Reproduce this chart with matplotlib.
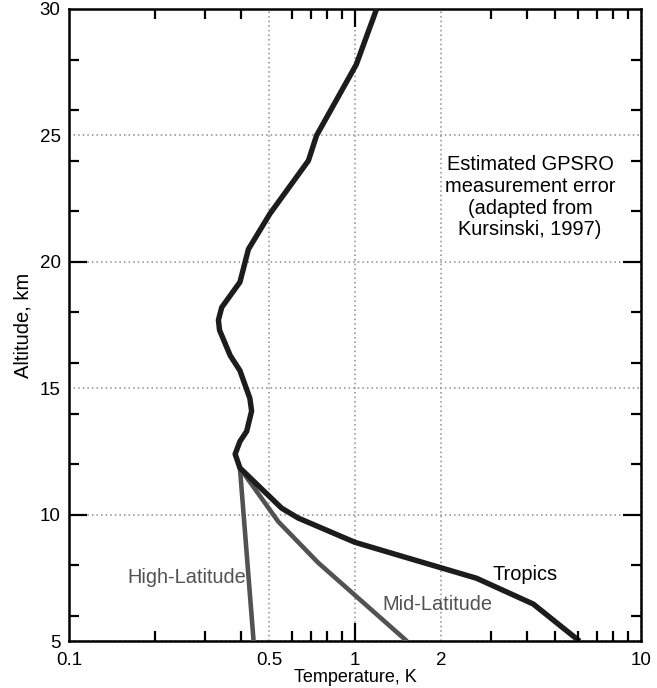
import matplotlib
matplotlib.use("Agg")
import matplotlib.pyplot as plt
from matplotlib.ticker import FixedLocator, NullFormatter, FixedFormatter

plt.rcParams['font.family'] = ['Liberation Sans', 'DejaVu Sans']

# Data (altitude km, temperature error K)
tropics_alt = [30.0, 27.8, 25.0, 24.0, 21.9, 20.5, 19.2, 18.2, 17.7, 17.3, 16.3, 15.7,
               14.6, 14.1, 13.3, 12.9, 12.4, 11.85, 10.26, 9.87, 8.91, 8.30, 7.49, 6.47, 5.0]
tropics_err = [1.19, 1.01, 0.734, 0.687, 0.504, 0.424, 0.396, 0.342, 0.333, 0.336, 0.366, 0.396,
               0.429, 0.435, 0.418, 0.396, 0.381, 0.396, 0.554, 0.633, 1.0, 1.52, 2.66, 4.20, 6.1]
midlat_alt = [11.85, 9.73, 8.10, 5.0]
midlat_err = [0.396, 0.539, 0.744, 1.52]
highlat_alt = [11.85, 5.0]
highlat_err = [0.396, 0.442]

xtick_vals = [0.1, 0.5, 1, 2, 10]
xtick_labels = ["0.1", "0.5", "1", "2", "10"]
ytick_vals = [5, 10, 15, 20, 25, 30]
ytick_labels = ["5", "10", "15", "20", "25", "30"]
x_minor = [0.2, 0.3, 0.4, 0.6, 0.7, 0.8, 0.9, 3, 4, 5, 6, 7, 8, 9]
x_major_marks = [1]
y_minor = [6, 8, 12, 14, 16, 18, 22, 24, 26, 28]
y_major_marks = [10, 20]

fig = plt.figure(figsize=(6.57, 6.88), dpi=100)
pos = [0.105, 0.068, 0.8707, 0.919]
ax = fig.add_axes(pos)
ax.set_xscale('log')
ax.set_xlim(0.1, 10)
ax.set_ylim(5, 30)

grey = '#525252'
ax.plot(highlat_err, highlat_alt, color=grey, lw=3.3, solid_capstyle='butt', zorder=3)
ax.plot(midlat_err, midlat_alt, color=grey, lw=3.3, solid_capstyle='butt', zorder=3)
ax.plot(tropics_err, tropics_alt, color='#1c1c1c', lw=3.9, solid_capstyle='butt', zorder=4)

ax.xaxis.set_major_locator(FixedLocator(xtick_vals))
ax.xaxis.set_major_formatter(FixedFormatter(xtick_labels))
ax.xaxis.set_minor_locator(FixedLocator([]))
ax.yaxis.set_major_locator(FixedLocator(ytick_vals))
ax.yaxis.set_major_formatter(FixedFormatter(ytick_labels))
ax.tick_params(which='major', length=0, labelsize=13.5)
ax.tick_params(axis='x', which='major', pad=8)
ax.tick_params(axis='y', which='major', pad=6)
ax.grid(True, which='major', linestyle=(0, (1, 2)), color='#8c8c8c', lw=1.1)
for s in ax.spines.values():
    s.set_linewidth(1.8)

ax.set_xlabel("Temperature, K", fontsize=13, labelpad=0)
ax.set_ylabel("Altitude, km", fontsize=14.5, labelpad=5)

ax.text(4.09, 22.55, "Estimated GPSRO\nmeasurement error\n(adapted from\nKursinski, 1997)",
        ha='center', va='center', fontsize=14.4, color='black', linespacing=1.18)
ax.text(3.93, 7.65, "Tropics", ha='center', va='center', fontsize=14.4, color='black')
ax.text(1.935, 6.47, "Mid-Latitude", ha='center', va='center', fontsize=14.4, color=grey)
ax.text(0.259, 7.53, "High-Latitude", ha='center', va='center', fontsize=14.4, color=grey)

# Overlay axes for tick marks
ax2 = fig.add_axes(pos, frameon=False)
ax2.set_xscale('log')
ax2.set_xlim(0.1, 10)
ax2.set_ylim(5, 30)
ax2.patch.set_visible(False)
ax2.xaxis.set_major_locator(FixedLocator(x_major_marks))
ax2.xaxis.set_minor_locator(FixedLocator(x_minor))
ax2.yaxis.set_major_locator(FixedLocator(y_major_marks))
ax2.yaxis.set_minor_locator(FixedLocator(y_minor))
ax2.xaxis.set_major_formatter(NullFormatter())
ax2.xaxis.set_minor_formatter(NullFormatter())
ax2.yaxis.set_major_formatter(NullFormatter())
ax2.yaxis.set_minor_formatter(NullFormatter())
ax2.tick_params(which='both', direction='in', top=True, bottom=True, left=True, right=True,
                width=1.6, color='black')
ax2.tick_params(which='major', length=13)
ax2.tick_params(which='minor', length=7)

fig.savefig("out.png", dpi=100)
